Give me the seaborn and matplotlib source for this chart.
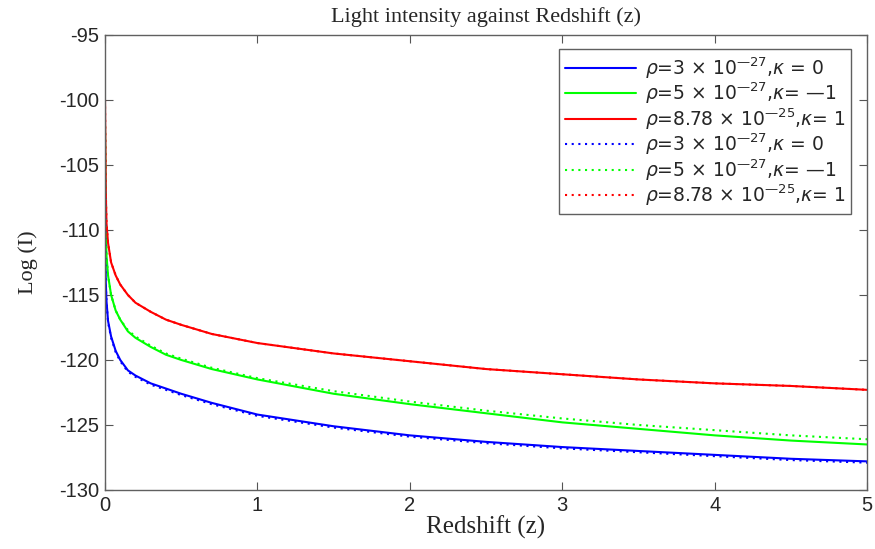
import numpy as np
import pandas as pd
import matplotlib
matplotlib.use("Agg")
import matplotlib.pyplot as plt
import seaborn as sns

# ---- data ----
z = [0, 0.005, 0.01, 0.02, 0.04, 0.07, 0.1, 0.15, 0.2, 0.3, 0.4, 0.5, 0.7,
     1, 1.5, 2, 2.5, 3, 3.5, 4, 4.5, 5]

blue_solid = [-105.5, -114.0, -115.5, -117.0, -118.2, -119.3, -120.0, -120.8, -121.2,
              -121.8, -122.2, -122.6, -123.3, -124.2, -125.1, -125.8, -126.3, -126.7,
              -127.0, -127.3, -127.6, -127.8]
green_solid = [-102.0, -110.0, -112.0, -113.5, -115.0, -116.2, -116.9, -117.8, -118.3,
               -119.0, -119.6, -120.0, -120.7, -121.5, -122.6, -123.4, -124.1, -124.8,
               -125.3, -125.8, -126.2, -126.5]
red_solid = [-100.0, -107.0, -109.5, -111.0, -112.5, -113.5, -114.2, -115.0, -115.6,
             -116.3, -116.9, -117.3, -118.0, -118.7, -119.5, -120.1, -120.7, -121.1,
             -121.5, -121.8, -122.0, -122.3]

blue_dot = [-105.5, -114.1, -115.6, -117.1, -118.3, -119.4, -120.1, -120.9, -121.3,
            -121.9, -122.3, -122.7, -123.4, -124.3, -125.2, -125.9, -126.4, -126.8,
            -127.1, -127.4, -127.7, -127.9]
green_dot = [-102.0, -110.0, -112.0, -113.5, -115.0, -116.2, -116.9, -117.7, -118.2,
             -118.9, -119.5, -119.9, -120.6, -121.4, -122.4, -123.2, -123.9, -124.5,
             -125.0, -125.4, -125.8, -126.1]
red_dot = red_solid

labels = [r"$\rho$=3 × 10$^{\mathrm{—27}}$,$\kappa$ = 0",
          r"$\rho$=5 × 10$^{\mathrm{—27}}$,$\kappa$= —1",
          r"$\rho$=8.78 × 10$^{\mathrm{—25}}$,$\kappa$= 1"]
colors = ["#0000ff", "#00ff00", "#ff0000"]

# ---- plot ----
sns.set_style("ticks")
plt.rcParams["font.family"] = ["Liberation Sans", "DejaVu Sans"]
plt.rcParams["mathtext.fontset"] = "dejavusans"
plt.rcParams["axes.unicode_minus"] = False

fig = plt.figure(figsize=(8.75, 5.49), dpi=100)
ax = fig.add_axes([0.12, 0.1075, 0.871, 0.829])

for ys, lab, c in zip([blue_solid, green_solid, red_solid], labels, colors):
    sns.lineplot(x=z, y=ys, ax=ax, color=c, linewidth=1.5, label=lab)
for ys, lab, c in zip([blue_dot, green_dot, red_dot], labels, colors):
    sns.lineplot(x=z, y=ys, ax=ax, color=c, linewidth=1.5, linestyle=(0, (1, 2.2)),
                 label=lab)

ax.set_xlim(0, 5)
ax.set_ylim(-130, -95)
ax.set_xticks([0, 1, 2, 3, 4, 5])
ax.set_yticks([-130, -125, -120, -115, -110, -105, -100, -95])
ax.tick_params(direction="in", top=True, right=True, labelsize=14.5, length=6,
               color="#555555", pad=4)
for s in ax.spines.values():
    s.set_color("#606060")
    s.set_linewidth(1.0)

ax.set_title("Light intensity against Redshift (z)", fontfamily="Liberation Serif",
             fontsize=16, pad=9)
ax.set_xlabel("Redshift (z)", fontfamily="Liberation Serif", fontsize=18, labelpad=1)
ax.set_ylabel("Log (I)", fontfamily="Liberation Serif", fontsize=16, labelpad=15)

leg = ax.legend(loc="upper right", frameon=True, fancybox=False,
                prop={"family": "DejaVu Sans", "size": 13.5},
                edgecolor="#606060", framealpha=1, handlelength=3.8,
                handletextpad=0.45, labelspacing=0.0, borderpad=0.3,
                borderaxespad=0, bbox_to_anchor=(0.979, 0.968))
leg.get_frame().set_linewidth(1.0)

fig.savefig("out.png", dpi=100)
